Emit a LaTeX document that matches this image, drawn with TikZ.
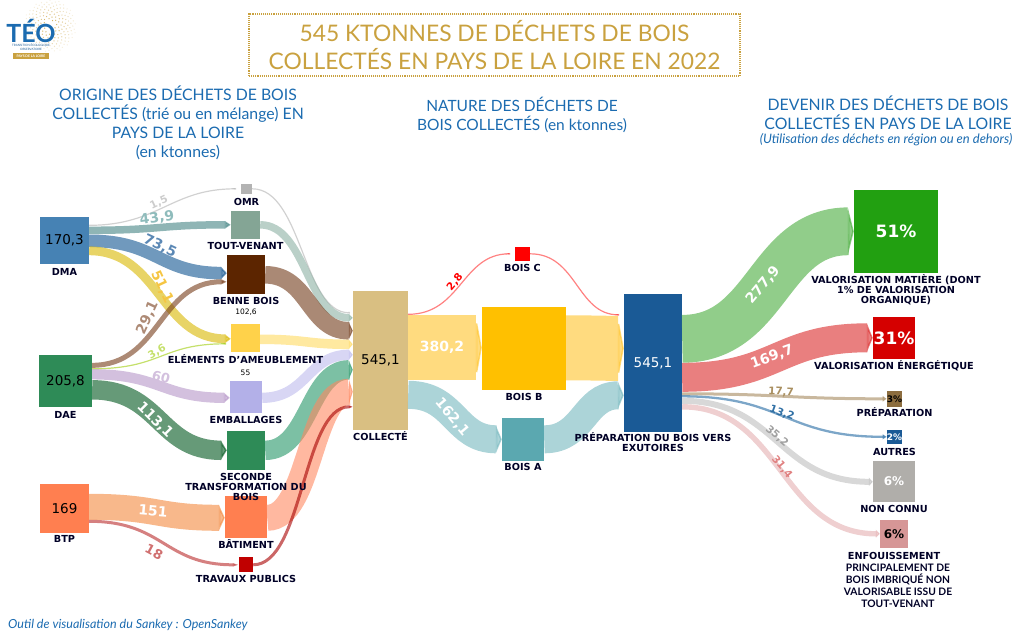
\documentclass[tikz,border=0pt]{standalone}
\usepackage{fontspec}
\usepackage{tikz}
\usetikzlibrary{arrows.meta, positioning}
\setmainfont{DejaVu Sans}
\newfontfamily\titlefont{Lato}
% node colours
\definecolor{gold}{HTML}{C9A13F}
\definecolor{headblue}{HTML}{1B6BB0}
\definecolor{dmac}{HTML}{4682B4}
\definecolor{daec}{HTML}{2E8B57}
\definecolor{btpc}{HTML}{FF7F50}
\definecolor{omrc}{HTML}{B3B3B3}
\definecolor{toutc}{HTML}{84A595}
\definecolor{bennec}{HTML}{5C2500}
\definecolor{elemc}{HTML}{FFD24A}
\definecolor{embc}{HTML}{B3B0E8}
\definecolor{tpc}{HTML}{C00000}
\definecolor{collc}{HTML}{D9BF82}
\definecolor{boisac}{HTML}{5BA8B0}
\definecolor{boisbc}{HTML}{FFC000}
\definecolor{prepc}{HTML}{1A5A96}
\definecolor{matc}{HTML}{22A011}
\definecolor{enc}{HTML}{D50000}
\definecolor{prepac}{HTML}{8C6D3F}
\definecolor{nonc}{HTML}{B0AEAA}
\definecolor{enfc}{HTML}{D69696}
% link colours
\definecolor{ltout}{HTML}{448484}
\definecolor{lbenne}{HTML}{115591}
\definecolor{lelem}{HTML}{D9B700}
\definecolor{lbrown}{HTML}{763C19}
\definecolor{llime}{HTML}{9ECB08}
\definecolor{lemb}{HTML}{B696C8}
\definecolor{lsec}{HTML}{00571E}
\definecolor{lbat}{HTML}{F3893E}
\definecolor{ltp}{HTML}{B92B2B}
\definecolor{ctout}{HTML}{8CB1A3}
\definecolor{cbenne}{HTML}{713A19}
\definecolor{celem}{HTML}{FFDA61}
\definecolor{cemb}{HTML}{BEBBED}
\definecolor{csec}{HTML}{259667}
\definecolor{cbat}{HTML}{FF8961}
\definecolor{ctp}{HTML}{A80000}
\definecolor{lboisc}{HTML}{FF2E2E}
\definecolor{lboisb}{HTML}{FFC32A}
\definecolor{lboisa}{HTML}{75B7BE}
\definecolor{lmat}{HTML}{48AC3C}
\definecolor{len}{HTML}{DA2A2A}
\definecolor{lprepa}{HTML}{A5895D}
\definecolor{lautres}{HTML}{256BA3}
\definecolor{lnon}{HTML}{BEBEBE}
\definecolor{lenf}{HTML}{E4AFB1}
% value colours
\definecolor{vomrc}{HTML}{CCCCCC}
\definecolor{vtoutc}{HTML}{8FBCBC}
\definecolor{vbennec}{HTML}{5B88B5}
\definecolor{velemc}{HTML}{F5C542}
\definecolor{vbrownc}{HTML}{AD8A75}
\definecolor{vlimec}{HTML}{C5E06B}
\definecolor{vembc}{HTML}{D3C0DE}
\definecolor{vtpc}{HTML}{D07070}
\definecolor{vprepc}{HTML}{A98F60}
\definecolor{vautc}{HTML}{3070A5}
\definecolor{vnonc}{HTML}{A0A0A0}
\definecolor{venfc}{HTML}{E08080}
\tikzstyle{block}=[rectangle,inner sep=0pt,font=\fontsize{13.5}{15}\selectfont]
\tikzstyle{lbl}=[inner sep=0pt,align=center,text=black!85!blue,font=\fontsize{9.7}{10}\selectfont\bfseries]
\tikzstyle{val}=[inner sep=0pt,font=\fontsize{14}{16}\selectfont\bfseries]
\tikzstyle{small}=[font=\fontsize{10.4}{12}\selectfont\bfseries]
\tikzstyle{head}=[inner sep=0pt,align=center,text=headblue,font=\titlefont\fontsize{15.8}{19}\selectfont]
\newcommand{\tiplen}{6pt}
% colour, width, from, offset, to, offset, bend
\newcommand{\flow}[7]{\draw[#1,opacity=.6,line width=#2pt,-{Triangle[length=\tiplen,width=#2pt]}]
    ([yshift=-#4pt]#3.north east) .. controls +(#7,0) and +(-#7,0) .. ([yshift=-#6pt]#5.north west);}
\newcommand{\thin}[7]{\pgfmathsetmacro{\tipw}{#2+2.5}
    \draw[#1,opacity=.6,line width=#2pt,-{Triangle[length=4pt,width=\tipw pt]}]
    ([yshift=-#4pt]#3.north east) .. controls +(#7,0) and +(-#7,0) .. ([yshift=-#6pt]#5.north west);}

\begin{document}
\begin{tikzpicture}[x=1pt,y=-1pt]
    \useasboundingbox (0,0) rectangle (1024,641);
    % logo
    \foreach \i in {8,...,190} {
        \pgfmathsetmacro{\ang}{mod(13.75*\i,36)*10}
        \pgfmathsetmacro{\rad}{1.9*sqrt(\i)}
        \pgfmathsetmacro{\opa}{max(.12,1-\rad/30)}
        \fill[gold,opacity=\opa] (50,26) ++(\ang:\rad) circle (.7);
    }
    \node[inner sep=0pt,text=headblue,font=\titlefont\fontsize{25}{25}\selectfont\bfseries] (teo) at (31,31) {TÉO};
    \node[inner sep=0pt,align=center,text=prepc,font=\titlefont\fontsize{3}{4}\selectfont] (teotxt) at (31,47) {TRANSITION ÉCOLOGIQUE\\OBSERVATOIRE};
    \node[inner sep=0pt,fill=gold,text=white,minimum width=36,minimum height=6,font=\titlefont\fontsize{3.4}{4}\selectfont\bfseries] (teobox) at (31,56) {PAYS DE LA LOIRE};
    % titles
    \node[draw=gold,densely dotted,line width=1.1pt,minimum width=491,minimum height=62,align=center,text=gold,font=\titlefont\fontsize{22.8}{28}\selectfont] (title) at (494.5,45) {545 KTONNES DE DÉCHETS DE BOIS\\COLLECTÉS EN PAYS DE LA LOIRE EN 2022};
    \node[head] (headl) at (178,123) {ORIGINE DES DÉCHETS DE BOIS\\COLLECTÉS (trié ou en mélange) EN\\PAYS DE LA LOIRE\\(en ktonnes)};
    \node[head,font=\titlefont\fontsize{15.5}{19}\selectfont] (headm) at (522,115) {NATURE DES DÉCHETS DE\\BOIS COLLECTÉS (en ktonnes)};
    \node[head] (headr) at (888,113) {DEVENIR DES DÉCHETS DE BOIS\\COLLECTÉS EN PAYS DE LA LOIRE};
    \node[inner sep=0pt,text=headblue,font=\titlefont\itshape\fontsize{13}{15}\selectfont] (headri) at (886,140) {(Utilisation des déchets en région ou en dehors)};
    \node[inner sep=0pt,anchor=west,text=headblue,font=\titlefont\itshape\fontsize{12.5}{15}\selectfont] (tool) at (8,625) {Outil de visualisation du Sankey : OpenSankey};
    % first column
    \node[block,fill=dmac,minimum width=49,minimum height=47] (dma) at (64.5,240.5) {170,3};
    \node[block,fill=daec,minimum width=53,minimum height=52] (dae) at (65.5,381) {205,8};
    \node[block,fill=btpc,minimum width=49,minimum height=49] (btp) at (64.5,508.5) {169};
    % second column
    \node[block,fill=omrc,minimum width=11,minimum height=10] (omr) at (246.5,189) {};
    \node[block,fill=toutc,minimum width=29,minimum height=28] (tout) at (245.5,225) {};
    \node[block,fill=bennec,minimum width=38,minimum height=39] (benne) at (246,274.5) {};
    \node[block,fill=elemc,minimum width=29,minimum height=28] (elem) at (245.5,338) {};
    \node[block,fill=embc,minimum width=32,minimum height=32] (emb) at (246,397) {};
    \node[block,fill=daec,minimum width=38,minimum height=39] (sec) at (246,450.5) {};
    \node[block,fill=btpc,minimum width=42,minimum height=42] (bat) at (246,517) {};
    \node[block,fill=tpc,minimum width=14,minimum height=15] (tp) at (246,564.5) {};
    % centre
    \node[block,fill=collc,minimum width=55,minimum height=139] (coll) at (380.5,360.5) {545,1};
    \node[block,fill=red,minimum width=15,minimum height=14] (boisc) at (522.5,254) {};
    \node[block,fill=boisbc,minimum width=84,minimum height=83] (boisb) at (524,348.5) {};
    \node[block,fill=boisac,minimum width=42,minimum height=43] (boisa) at (523,439.5) {};
    \node[block,fill=prepc,text=white,minimum width=58,minimum height=138] (prep) at (653,363) {545,1};
    % outcomes
    \node[block,fill=matc,text=white,minimum width=84,minimum height=83,font=\fontsize{17}{20}\selectfont\bfseries] (mat) at (896,231.5) {51\%};
    \node[block,fill=enc,text=white,minimum width=42,minimum height=42,font=\fontsize{17}{20}\selectfont\bfseries] (en) at (894,338) {31\%};
    \node[block,fill=prepac,minimum width=15,minimum height=16,font=\fontsize{9}{10}\selectfont\bfseries] (prepa) at (894.5,399) {3\%};
    \node[block,fill=prepc,text=white,minimum width=15,minimum height=14,font=\fontsize{9}{10}\selectfont\bfseries] (autres) at (894.5,437) {2\%};
    \node[block,fill=nonc,text=white,minimum width=42,minimum height=41,font=\fontsize{12}{14}\selectfont\bfseries] (non) at (894,481.5) {6\%};
    \node[block,fill=enfc,minimum width=28,minimum height=28,font=\fontsize{12}{14}\selectfont\bfseries] (enf) at (894,534) {6\%};
    % links towards the second column
    \flow{omrc}{1.2}{dma}{8.5}{omr}{5}{70}
    \flow{ltout}{7.5}{dma}{13.5}{tout}{14}{70}
    \flow{lbenne}{12.6}{dma}{24}{benne}{18.3}{68}
    \flow{lelem}{8.8}{dma}{34}{elem}{15}{70}
    \flow{lbrown}{5}{dae}{10.5}{benne}{27}{68}
    \flow{llime}{1.2}{dae}{14}{elem}{20}{70}
    \flow{lemb}{10.3}{dae}{19.5}{emb}{17}{68}
    \flow{lsec}{19.4}{dae}{35}{sec}{19.5}{68}
    \flow{lbat}{26}{btp}{23}{bat}{22}{68}
    \flow{ltp}{3}{btp}{37.5}{tp}{8}{75}
    % links towards the collected total
    \renewcommand{\tiplen}{4pt}
    \flow{omrc}{1.2}{omr}{5}{coll}{22}{50}
    \flow{ctout}{7.5}{tout}{14}{coll}{27}{46}
    \flow{cbenne}{17.6}{benne}{20}{coll}{40}{44}
    \flow{celem}{9.5}{elem}{15.5}{coll}{53.5}{46}
    \flow{cemb}{10.3}{emb}{17}{coll}{64}{45}
    \flow{csec}{19.4}{sec}{19.5}{coll}{79}{44}
    \flow{cbat}{26}{bat}{22}{coll}{101}{43}
    \flow{ctp}{3}{tp}{8}{coll}{116}{50}
    \renewcommand{\tiplen}{6pt}
    % nature of the wood
    \flow{lboisc}{1.2}{coll}{23.5}{boisc}{7}{53}
    \flow{lboisb}{65}{coll}{57}{boisb}{41}{37}
    \flow{lboisa}{28}{coll}{104}{boisa}{21.5}{47}
    \flow{lboisc}{1.2}{boisc}{7}{prep}{21}{47}
    \flow{lboisb}{65}{boisb}{41}{prep}{54.5}{29}
    \flow{lboisa}{28}{boisa}{21.5}{prep}{101.5}{40}
    % outcomes
    \flow{lmat}{47.8}{prep}{45}{mat}{41.5}{86}
    \flow{len}{29}{prep}{83.5}{en}{21}{95}
    \thin{lprepa}{3}{prep}{100}{prepa}{8}{100}
    \thin{lautres}{2.3}{prep}{102.5}{autres}{7}{102}
    \thin{lnon}{6}{prep}{107}{non}{21}{95}
    \thin{lenf}{5.4}{prep}{113}{enf}{14}{99}
    % link values
    \node[val,small,text=vomrc,rotate=25] (vomr) at (159,203) {1,5};
    \node[val,text=vtoutc,rotate=8] (vtout) at (157,218) {43,9};
    \node[val,text=vbennec,rotate=-25] (vbenne) at (160,246) {73,5};
    \node[val,text=velemc,rotate=-65] (velem) at (162,287) {51,1};
    \node[val,text=vbrownc,rotate=65] (vdae) at (148,318) {29,1};
    \node[val,small,text=vlimec,rotate=30] (vpetit) at (157,352) {3,6};
    \node[val,text=vembc,rotate=-15,font=\fontsize{13}{15}\selectfont\bfseries] (vemb) at (161,377) {60};
    \node[val,text=white,rotate=-45] (vsec) at (155,420) {113,1};
    \node[val,text=white,rotate=-5] (vbat) at (153,511) {151};
    \node[val,text=vtpc,rotate=-28,font=\fontsize{13}{15}\selectfont\bfseries] (vtp) at (154,552) {18};
    \node[val,small,text=red,rotate=50] (vc) at (455,282) {2,8};
    \node[val,text=white] (vb) at (442,347) {380,2};
    \node[val,text=white,rotate=-50] (va) at (452,417) {162,1};
    \node[val,text=white,rotate=50] (vmat) at (763,285) {277,9};
    \node[val,text=white,rotate=20] (ven) at (772,357) {169,7};
    \node[val,small,text=vprepc,rotate=-3] (vprep) at (781,392) {17,7};
    \node[val,small,text=vautc,rotate=-20] (vaut) at (782,413) {13,2};
    \node[val,small,text=vnonc,rotate=-40] (vnon) at (777,436) {35,2};
    \node[val,small,text=venfc,rotate=-50] (venf) at (782,467) {31,4};
    % node captions
    \node[lbl,below=4.4pt of dma] (capdma) {DMA};
    \node[lbl,below=4.4pt of dae] (capdae) {DAE};
    \node[lbl,below=2.4pt of btp] (capbtp) {BTP};
    \node[lbl,below=3.4pt of omr] (capomr) {OMR};
    \node[lbl,below=2.4pt of tout] (captout) {TOUT-VENANT};
    \node[lbl,below=2.4pt of benne] (capbenne) {BENNE BOIS};
    \node[inner sep=0pt,below=4pt of capbenne,font=\fontsize{7.5}{9}\selectfont] (nbenne) {102,6};
    \node[lbl,below=2.2pt of elem] (capelem) {ELÉMENTS D'AMEUBLEMENT};
    \node[inner sep=0pt,below=5.5pt of capelem,font=\fontsize{7.5}{9}\selectfont] (nelem) {55};
    \node[lbl,below=2.4pt of emb] (capemb) {EMBALLAGES};
    \node[lbl,below=2.4pt of sec] (capsec) {SECONDE\\TRANSFORMATION DU\\BOIS};
    \node[lbl,below=1.2pt of bat] (capbat) {BÂTIMENT};
    \node[lbl,below=2.4pt of tp] (captp) {TRAVAUX PUBLICS};
    \node[lbl,below=1.2pt of coll] (capcoll) {COLLECTÉ};
    \node[lbl,below=2.4pt of boisc] (capboisc) {BOIS C};
    \node[lbl,below=2.4pt of boisb] (capboisb) {BOIS B};
    \node[lbl,below=1.4pt of boisa] (capboisa) {BOIS A};
    \node[lbl,below=.2pt of prep] (capprep) {PRÉPARATION DU BOIS VERS\\EXUTOIRES};
    \node[lbl,below=1.2pt of mat] (capmat) {VALORISATION MATIÈRE (DONT\\1\% DE VALORISATION\\ORGANIQUE)};
    \node[lbl,below=1.2pt of en] (capen) {VALORISATION ÉNERGÉTIQUE};
    \node[lbl,below=.2pt of prepa] (capprepa) {PRÉPARATION};
    \node[lbl,below=3.4pt of autres] (capautres) {AUTRES};
    \node[lbl,below=2.4pt of non] (capnon) {NON CONNU};
    \node[lbl,below=3.4pt of enf] (capenf) {ENFOUISSEMENT};
    \node[inner sep=0pt,align=center,text=black!85!blue,below=4.7pt of capenf,xshift=4pt,font=\titlefont\fontsize{10.3}{12}\selectfont\bfseries] (capenfb) {PRINCIPALEMENT DE\\BOIS IMBRIQUÉ NON\\VALORISABLE ISSU DE\\TOUT-VENANT};
\end{tikzpicture}
\end{document}
